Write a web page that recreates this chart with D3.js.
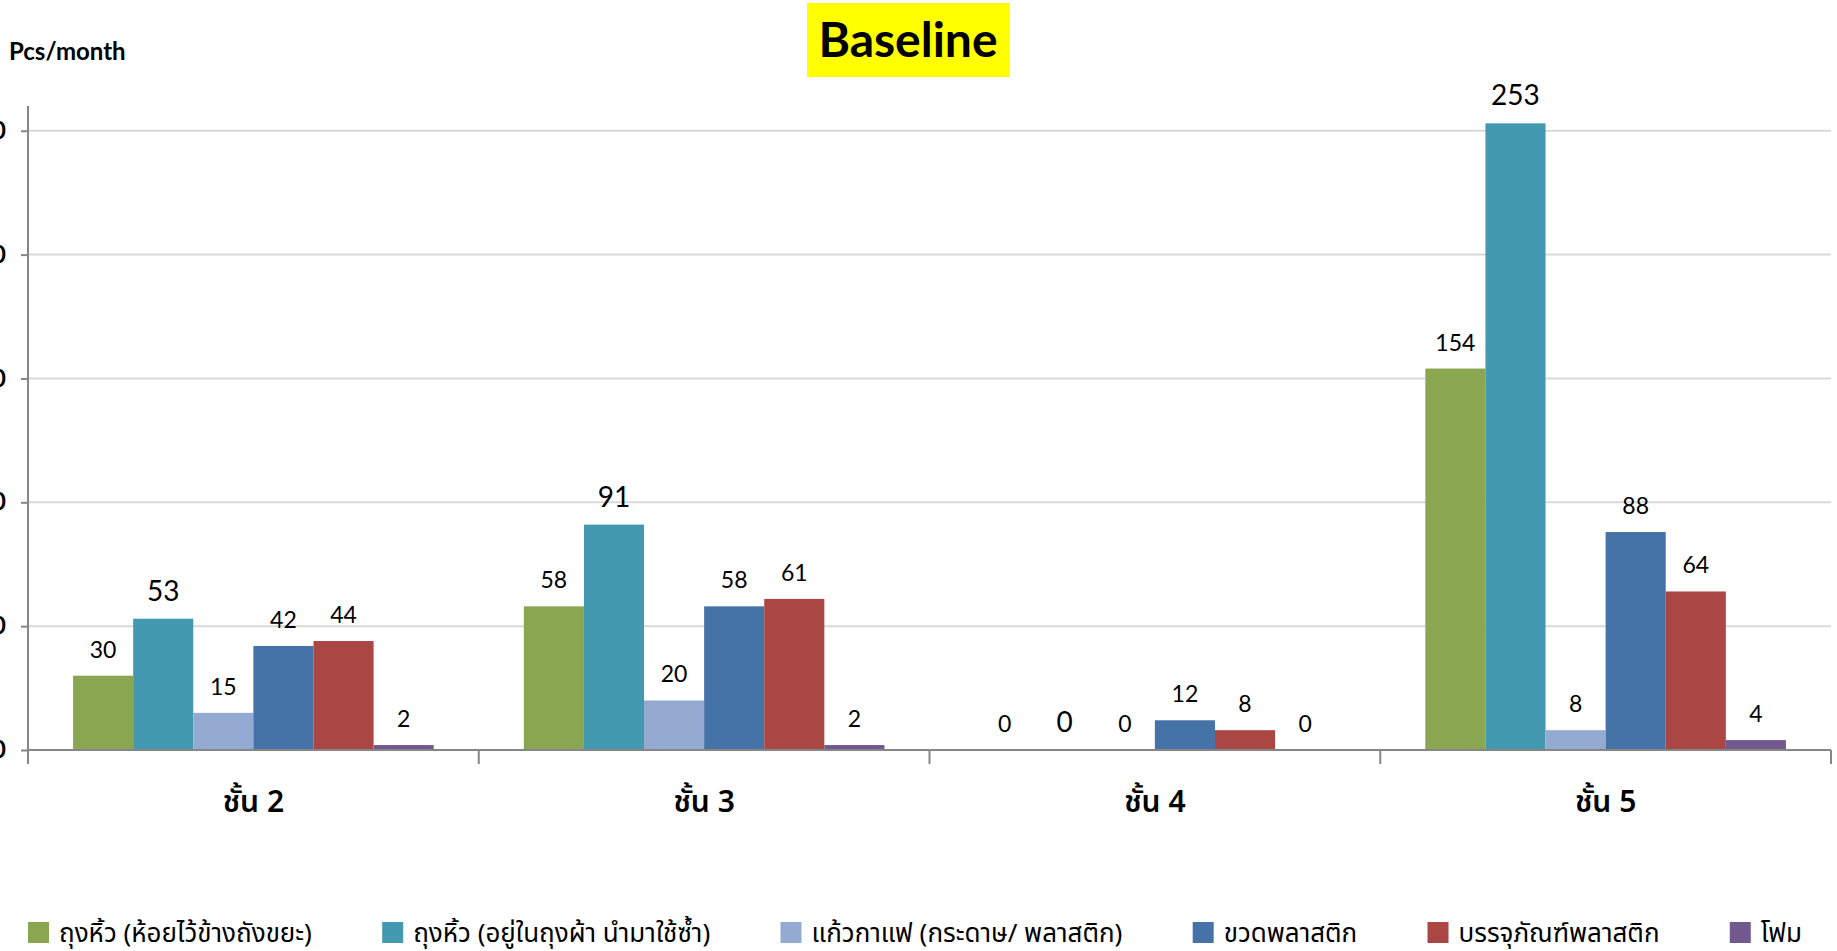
<!DOCTYPE html>
<html>
<head>
<meta charset="utf-8">
<script src="https://cdn.jsdelivr.net/npm/d3@7"></script>
<style>
  html, body { margin: 0; padding: 0; background: #fff; overflow: hidden; }
  svg { display: block; }
</style>
</head>
<body>
<div id="chart"></div>
<script>
// data
const categories = ['ชั้น 2', 'ชั้น 3', 'ชั้น 4', 'ชั้น 5'];
const seriesNames = [
    'ถุงหิ้ว (ห้อยไว้ข้างถังขยะ)',
    'ถุงหิ้ว (อยู่ในถุงผ้า นำมาใช้ซ้ำ)',
    'แก้วกาแฟ (กระดาษ/ พลาสติก)',
    'ขวดพลาสติก',
    'บรรจุภัณฑ์พลาสติก',
    'โฟม'
];
const bagsHanging = [30, 58, 0, 154];
const bagsReused = [53, 91, 0, 253];
const coffeeCups = [15, 20, 0, 8];
const plasticBottles = [42, 58, 12, 88];
const plasticPackaging = [44, 61, 8, 64];
const foam = [2, 2, 0, 4];
const yTicks = [0, 50, 100, 150, 200, 250];

const seriesValues = [bagsHanging, bagsReused, coffeeCups, plasticBottles, plasticPackaging, foam];
const colors = ['#8BA650', '#4299B0', '#95AAD2', '#4572A7', '#AA4643', '#71588F'];

const width = 1837;
const height = 951;
const plot = {left: 28, right: 1831, top: 106, bottom: 750};
const latin = 'Lato, "Open Sans", sans-serif';
const thai = '"Noto Sans Thai", "Noto Sans", Tahoma, sans-serif';

const svg = d3.select('#chart')
    .append('svg')
    .attr('width', width)
    .attr('height', height);

const x0 = d3.scaleBand()
    .domain(categories)
    .range([plot.left, plot.right])
    .paddingInner(0)
    .paddingOuter(0);

const x1 = d3.scaleBand()
    .domain(d3.range(seriesNames.length))
    .range([0, x0.bandwidth()])
    .paddingInner(0)
    .paddingOuter(0.75);

const y = d3.scaleLinear()
    .domain([0, 260])
    .range([plot.bottom, plot.top]);

// gridlines
svg.append('g')
    .selectAll('line')
    .data(yTicks.filter(d => d > 0))
    .enter()
    .append('line')
    .attr('x1', plot.left)
    .attr('x2', plot.right)
    .attr('y1', d => y(d))
    .attr('y2', d => y(d))
    .attr('stroke', '#D9D9D9')
    .attr('stroke-width', 2);

// y axis (labels run off the left edge, as in the reference)
const yAxis = svg.append('g')
    .attr('transform', `translate(${plot.left},0)`)
    .call(d3.axisLeft(y).tickValues(yTicks).tickSize(7).tickPadding(15));
yAxis.select('.domain').remove();
yAxis.selectAll('.tick line').attr('stroke', '#868686').attr('stroke-width', 2);
yAxis.selectAll('.tick text')
    .attr('fill', '#000')
    .style('font-family', latin)
    .style('font-size', '24px')
    .style('font-weight', 'bold');

svg.append('line')
    .attr('x1', plot.left).attr('x2', plot.left)
    .attr('y1', plot.top).attr('y2', plot.bottom + 14)
    .attr('stroke', '#868686')
    .attr('stroke-width', 2);

// bars
const groups = svg.append('g')
    .selectAll('g')
    .data(categories)
    .enter()
    .append('g')
    .attr('transform', d => `translate(${x0(d)},0)`);

groups.selectAll('rect')
    .data((c, ci) => seriesValues.map((vals, si) => ({si: si, value: vals[ci]})))
    .enter()
    .append('rect')
    .attr('x', d => x1(d.si))
    .attr('y', d => y(d.value))
    .attr('width', x1.bandwidth())
    .attr('height', d => y(0) - y(d.value))
    .attr('fill', d => colors[d.si]);

// data labels
groups.selectAll('text')
    .data((c, ci) => seriesValues.map((vals, si) => ({si: si, value: vals[ci]})))
    .enter()
    .append('text')
    .attr('x', d => x1(d.si) + x1.bandwidth() / 2)
    .attr('y', d => y(d.value) - 18)
    .attr('text-anchor', 'middle')
    .attr('fill', '#000')
    .style('font-family', latin)
    .style('font-size', d => d.si === 1 ? '28px' : '23px')
    .text(d => d.value);

// x axis line and ticks
svg.append('line')
    .attr('x1', plot.left).attr('x2', plot.right)
    .attr('y1', plot.bottom).attr('y2', plot.bottom)
    .attr('stroke', '#868686')
    .attr('stroke-width', 2);

svg.append('g')
    .selectAll('line')
    .data(categories.slice(1).map(c => x0(c)).concat([plot.right]))
    .enter()
    .append('line')
    .attr('x1', d => d).attr('x2', d => d)
    .attr('y1', plot.bottom).attr('y2', plot.bottom + 14)
    .attr('stroke', '#868686')
    .attr('stroke-width', 2);

svg.append('g')
    .selectAll('text')
    .data(categories)
    .enter()
    .append('text')
    .attr('x', d => x0(d) + x0.bandwidth() / 2)
    .attr('y', 812)
    .attr('text-anchor', 'middle')
    .attr('fill', '#000')
    .style('font-family', thai)
    .style('font-size', '30px')
    .style('font-weight', '600')
    .text(d => d);

// title
svg.append('rect')
    .attr('x', 807).attr('y', 3)
    .attr('width', 203).attr('height', 74)
    .attr('fill', '#FFFF00');

svg.append('text')
    .attr('x', 908)
    .attr('y', 57)
    .attr('text-anchor', 'middle')
    .attr('fill', '#000')
    .style('font-family', latin)
    .style('font-size', '48px')
    .style('font-weight', 'bold')
    .text('Baseline');

svg.append('text')
    .attr('x', 9)
    .attr('y', 60)
    .attr('fill', '#000')
    .style('font-family', latin)
    .style('font-size', '24px')
    .style('font-weight', 'bold')
    .text('Pcs/month');

// legend, spread across the width like the reference
const legend = svg.append('g');
const legendItems = legend.selectAll('g')
    .data(seriesNames)
    .enter()
    .append('g');

legendItems.append('rect')
    .attr('y', 922)
    .attr('width', 21)
    .attr('height', 21)
    .attr('fill', (d, i) => colors[i]);

legendItems.append('text')
    .attr('x', 31)
    .attr('y', 942)
    .attr('fill', '#000')
    .style('font-family', thai)
    .style('font-size', '26px')
    .text(d => d);

const itemWidths = [];
legendItems.each(function() { itemWidths.push(this.getBBox().width); });
const legendStart = 28;
const legendEnd = 1802;
const spacing = (legendEnd - legendStart - d3.sum(itemWidths)) / (seriesNames.length - 1);
let cursor = legendStart;
legendItems.attr('transform', (d, i) => {
    const tx = cursor;
    cursor += itemWidths[i] + spacing;
    return `translate(${tx},0)`;
});
</script>
</body>
</html>
